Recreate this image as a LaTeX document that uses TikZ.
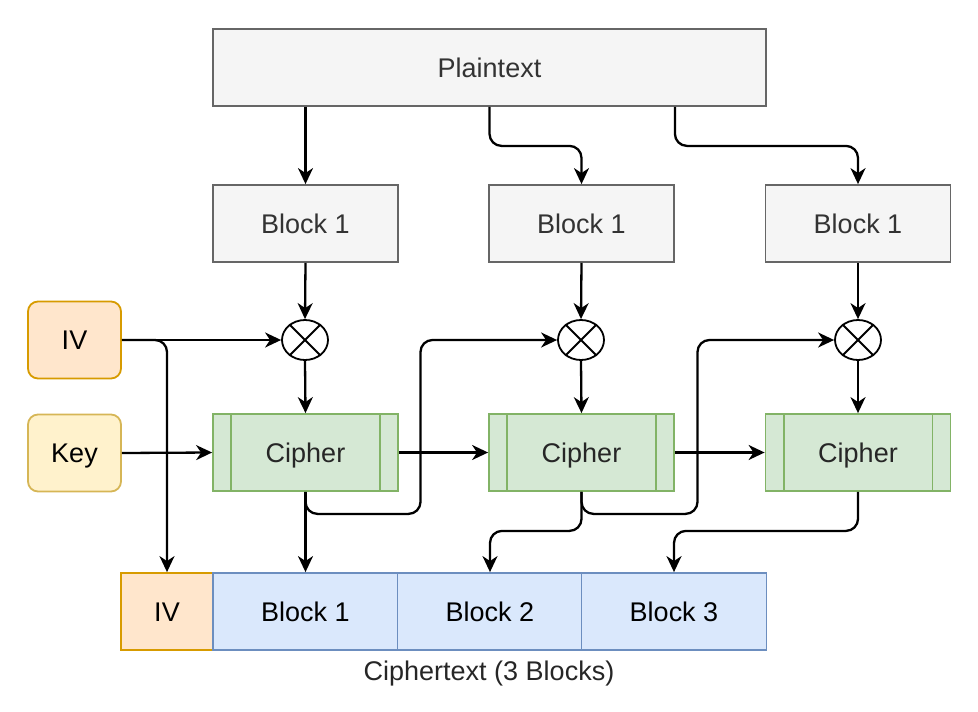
\documentclass[tikz,border=0pt]{standalone}
\usepackage{fontspec}
\setmainfont{Liberation Sans}
\usetikzlibrary{arrows.meta,shapes.geometric}
\definecolor{greyFill}{HTML}{F5F5F5}
\definecolor{greyLine}{HTML}{666666}
\definecolor{ivFill}{HTML}{FFE6CC}
\definecolor{ivLine}{HTML}{D79B00}
\definecolor{keyFill}{HTML}{FFF2CC}
\definecolor{keyLine}{HTML}{D6B656}
\definecolor{cipherFill}{HTML}{D5E8D4}
\definecolor{cipherLine}{HTML}{82B366}
\definecolor{blockFill}{HTML}{DAE8FC}
\definecolor{blockLine}{HTML}{6C8EBF}
\newcommand{\labelFont}{\fontsize{27}{32}\selectfont}
\newcommand{\boxWidth}{185pt}
\newcommand{\boxHeight}{77pt}
\newcommand{\cornerRadius}{12pt}

\tikzset{
  label text/.style={font=\labelFont, text height=19.3pt, text depth=0pt},
  base/.style={label text, line width=1.8pt, inner sep=0pt,
    minimum height=\boxHeight},
  plainbox/.style={base, draw=greyLine, fill=greyFill, text=black!80,
    minimum width=\boxWidth},
  cipherbox/.style={base, draw=cipherLine, fill=cipherFill, text=black!85,
    minimum width=\boxWidth},
  ivbox/.style={base, draw=ivLine, fill=ivFill, rounded corners=10pt,
    minimum width=93pt},
  keybox/.style={base, draw=keyLine, fill=keyFill, rounded corners=10pt,
    minimum width=93pt},
  outbox/.style={base, draw=blockLine, fill=blockFill, minimum width=\boxWidth},
  xorop/.style={ellipse, draw, line width=1.8pt, fill=white, inner sep=0pt,
    minimum width=46pt, minimum height=40pt},
  arr/.style={-{Stealth[length=16pt,width=15pt,inset=5pt]}, line width=2.3pt,
    rounded corners=\cornerRadius}
}

\begin{document}
\begin{tikzpicture}[x=1pt, y=-1pt]
\useasboundingbox (0,0) rectangle (978,712);

% plaintext and its blocks
\node (pt) [plainbox, minimum width=553pt] at (489.5,67.5) {Plaintext};
\node (b1) [plainbox] at (305.5,223.5) {Block 1};
\node (b2) [plainbox] at (581.5,223.5) {Block 1};
\node (b3) [plainbox] at (858,223.5) {Block 1};

% xor
\foreach \n/\x in {x1/305,x2/581,x3/858}{
  \node (\n) [xorop] at (\x,340) {};
  \draw[line width=1.8pt] (\n.135) -- (\n.-45) (\n.45) -- (\n.-135);
}

\node (iv) [ivbox] at (74.5,340) {IV};
\node (key) [keybox] at (74.5,453) {Key};

% cipher boxes
\node (c1) [cipherbox] at (305.5,452.5) {Cipher};
\node (c2) [cipherbox] at (581.5,452.5) {Cipher};
\node (c3) [cipherbox] at (858,452.5) {Cipher};
\foreach \c in {c1,c2,c3}
  \draw[cipherLine, line width=1.8pt]
    ([xshift=19pt]\c.north west) -- ([xshift=19pt]\c.south west)
    ([xshift=-19pt]\c.north east) -- ([xshift=-19pt]\c.south east);

% ciphertext
\node (oiv) [ivbox, rounded corners=0pt, minimum width=92pt] at (167,611.5) {IV};
\node (o1) [outbox] at (305.5,611.5) {Block 1};
\node (o2) [outbox] at (490,611.5) {Block 2};
\node (o3) [outbox] at (674,611.5) {Block 3};
\node (ct) [label text, text=black!85] at (489,671) {Ciphertext (3 Blocks)};

% connectors
\draw[arr] (pt.south -| b1.north) -- (b1.north);
\draw[arr] (pt.south) -- ++(0,39) -| (b2.north);
\draw[arr] (pt.south -| b2.east) -- ++(0,39) -| (b3.north);
\foreach \i in {1,2,3}{
  \draw[arr] (b\i.south) -- (x\i.north);
  \draw[arr] (x\i.south) -- (c\i.north);
}
\draw[arr] (iv.east) -- (x1.west);
\draw[arr] (iv.east) -| (oiv.north);
\draw[arr] (key.east) -- (c1.west);
\draw[arr] (c1.east) -- (c2.west);
\draw[arr] (c2.east) -- (c3.west);
\draw[arr] (c1.south) -- (o1.north);
\draw[arr] (c1.south) |- ++(115,22) |- (x2.west);
\draw[arr] (c2.south) |- ++(116,22) |- (x3.west);
\draw[arr] (c2.south) -- ++(0,39) -| (o2.north);
\draw[arr] (c3.south) -- ++(0,39) -| (o3.north);
\end{tikzpicture}
\end{document}
